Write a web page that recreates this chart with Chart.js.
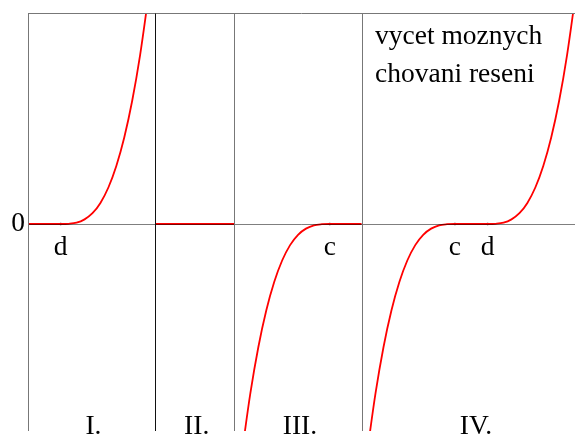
<!DOCTYPE html>
<html>
<head>
<meta charset="utf-8">
<script src="https://cdn.jsdelivr.net/npm/chart.js@4/dist/chart.umd.min.js"></script>
<style>
  body { margin: 0; background: #fff; }
  canvas { display: block; }
</style>
</head>
<body>
<canvas id="chart" width="579" height="435"></canvas>
<script>
// region boundaries on the x axis
const dividers = [0, 4, 6.5, 10.5];
const regionNames = ["I.", "II.", "III.", "IV."];
const regionCenters = [2.06, 5.31, 8.56, 14.1];

// marked points on the zero line
const markX = [1.03, 9.5, 13.44, 14.47];
const markNames = ["d", "c", "c", "d"];

// case I: zero until d, then growing
const xI = [0, 1.03, 1.28, 1.53, 1.78, 2.03, 2.28, 2.53, 2.78, 3.03, 3.28, 3.53, 3.78];
const yI = [0, 0, 0.001, 0.006, 0.022, 0.051, 0.100, 0.173, 0.275, 0.410, 0.584, 0.802, 1.067];

// case II: identically zero
const xII = [4, 6.5];
const yII = [0, 0];

// case III: growing up to c, then zero
const xIII = [6.75, 7.0, 7.25, 7.5, 7.75, 8.0, 8.25, 8.5, 8.75, 9.0, 9.25, 9.5, 10.5];
const yIII = [-1.067, -0.802, -0.584, -0.410, -0.275, -0.173, -0.100, -0.051, -0.022, -0.006, -0.001, 0, 0];

// case IV: up to c, zero between c and d, growing after d
const xIV = [10.69, 10.94, 11.19, 11.44, 11.69, 11.94, 12.19, 12.44, 12.69, 12.94, 13.19, 13.44,
             14.47, 14.72, 14.97, 15.22, 15.47, 15.72, 15.97, 16.22, 16.47, 16.72, 16.97, 17.22];
const yIV = [-1.067, -0.802, -0.584, -0.410, -0.275, -0.173, -0.100, -0.051, -0.022, -0.006, -0.001, 0,
             0, 0.001, 0.006, 0.022, 0.051, 0.100, 0.173, 0.275, 0.410, 0.584, 0.802, 1.067];

const xMin = 0, xMax = 17.219;
const yMin = -0.981, yMax = 1;

const serif = "'Liberation Serif', 'DejaVu Serif', serif";

function toPoints(xs, ys) {
    return xs.map(function (x, i) {
        return { x: x, y: ys[i] };
    });
}

function curve(xs, ys) {
    return {
        type: "line",
        data: toPoints(xs, ys),
        borderColor: "#ff0000",
        borderWidth: 1.8,
        pointRadius: 0,
        fill: false,
        cubicInterpolationMode: "monotone"
    };
}

// frame, dividers and the zero axis are drawn over the curves
const framePlugin = {
    id: "frame",
    afterDatasetsDraw: function (chart) {
        const ctx = chart.ctx;
        const xs = chart.scales.x;
        const ys = chart.scales.y;
        const area = chart.chartArea;
        const y0 = Math.round(ys.getPixelForValue(0)) + 0.5;

        ctx.save();
        ctx.lineWidth = 1;

        ctx.strokeStyle = "rgba(0,0,0,0.5)";
        ctx.beginPath();
        ctx.moveTo(area.left, y0);
        ctx.lineTo(area.right, y0);
        ctx.stroke();

        const top = Math.round(ys.getPixelForValue(yMax)) + 0.5;
        ctx.strokeStyle = "#777";
        ctx.beginPath();
        ctx.moveTo(area.left, top);
        ctx.lineTo(area.right, top);
        ctx.stroke();

        dividers.forEach(function (d, i) {
            const px = Math.round(xs.getPixelForValue(d)) + 0.5;
            ctx.strokeStyle = i === 1 ? "#111" : "#777";
            ctx.beginPath();
            ctx.moveTo(px, top);
            ctx.lineTo(px, area.bottom);
            ctx.stroke();
        });
        ctx.restore();
    },
    afterDraw: function (chart) {
        const ctx = chart.ctx;
        const xs = chart.scales.x;
        const ys = chart.scales.y;
        const y0 = ys.getPixelForValue(0);

        ctx.save();
        ctx.fillStyle = "#000";
        ctx.font = "27.5px " + serif;

        ctx.textAlign = "right";
        ctx.textBaseline = "middle";
        ctx.fillText("0", 25, y0);

        ctx.textAlign = "center";
        ctx.textBaseline = "alphabetic";
        markX.forEach(function (m, i) {
            ctx.fillText(markNames[i], xs.getPixelForValue(m), y0 + 31);
        });
        regionNames.forEach(function (name, i) {
            ctx.fillText(name, xs.getPixelForValue(regionCenters[i]), 434);
        });

        ctx.textAlign = "left";
        ctx.fillText("vycet moznych", 375, 44);
        ctx.fillText("chovani reseni", 375, 82);
        ctx.restore();
    }
};

new Chart(document.getElementById("chart").getContext("2d"), {
    type: "line",
    data: {
        datasets: [
            curve(xI, yI),
            curve(xII, yII),
            curve(xIII, yIII),
            curve(xIV, yIV),
            {
                type: "scatter",
                data: markX.map(function (m) { return { x: m, y: 0 }; }),
                backgroundColor: "#000",
                borderWidth: 0,
                pointRadius: 1.3
            }
        ]
    },
    options: {
        responsive: false,
        animation: false,
        devicePixelRatio: 1,
        layout: { padding: { left: 28, top: 13, right: 0, bottom: 0 } },
        plugins: {
            legend: { display: false },
            tooltip: { enabled: false }
        },
        scales: {
            x: { type: "linear", min: xMin, max: xMax, display: false },
            y: { type: "linear", min: yMin, max: yMax, display: false }
        }
    },
    plugins: [framePlugin]
});
</script>
</body>
</html>
